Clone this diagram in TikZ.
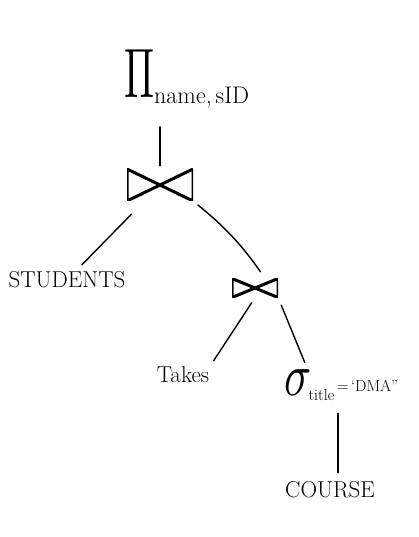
\documentclass[tikz,border=0pt]{standalone}
\usepackage{amsmath}
\usepackage{graphicx}
\begin{document}
\begin{tikzpicture}[x=1pt,y=-1pt,
  lbl/.style={font=\fontsize{23}{27}\selectfont, inner sep=1pt},
  joinop/.style={inner sep=0pt,
    path picture={\draw[line width=3pt]
      (path picture bounding box.north west) -- (path picture bounding box.south east)
      (path picture bounding box.south west) -- (path picture bounding box.north east)
      (path picture bounding box.north west) -- (path picture bounding box.south west)
      (path picture bounding box.north east) -- (path picture bounding box.south east);}},
  edge/.style={line width=1.4pt, line cap=round}]
\useasboundingbox (0,0) rectangle (419,537);
\node[inner sep=0pt, anchor=base west] (pi) at (124,98)
  {\scalebox{4}[7]{$\Pi$}\raisebox{-6pt}{\fontsize{24}{28}\selectfont name,\,sID}};
\node[joinop, minimum width=66pt, minimum height=32pt] (j1) at (160,185) {};
\node[lbl] (st) at (67,280) {STUDENTS};
\node[joinop, minimum width=46pt, minimum height=19pt] (j2) at (255,288) {};
\node[lbl] (tk) at (183,375) {Takes};
\node[inner sep=1pt, anchor=base west] (sg) at (283,395)
  {\scalebox{4.5}[6]{$\sigma$}\hspace{-3pt}\raisebox{-5pt}{\fontsize{16}{20}\selectfont title}\raisebox{4pt}{\fontsize{16}{20}\selectfont\,=\,`DMA''}};
\node[lbl] (co) at (330,490) {COURSE};
\draw[edge, shorten <=18pt, shorten >=3pt] (j1 |- pi.south) -- (j1.north);
\draw[edge, shorten <=18pt, shorten >=8pt] (j1) -- (st);
\draw[edge, shorten <=6pt, shorten >=8pt] (j1.south east) to[bend left=8] ([xshift=10pt]j2.north);
\draw[edge, shorten <=6pt, shorten >=6pt] (j2.south) -- (tk.north east);
\draw[edge, shorten <=8pt, shorten >=6pt] (j2.south east) -- ([xshift=24pt]sg.north west);
\draw[edge, shorten <=12pt, shorten >=8pt] ([xshift=55pt]sg.south west) -- ([xshift=8pt]co.north);
\end{tikzpicture}
\end{document}
